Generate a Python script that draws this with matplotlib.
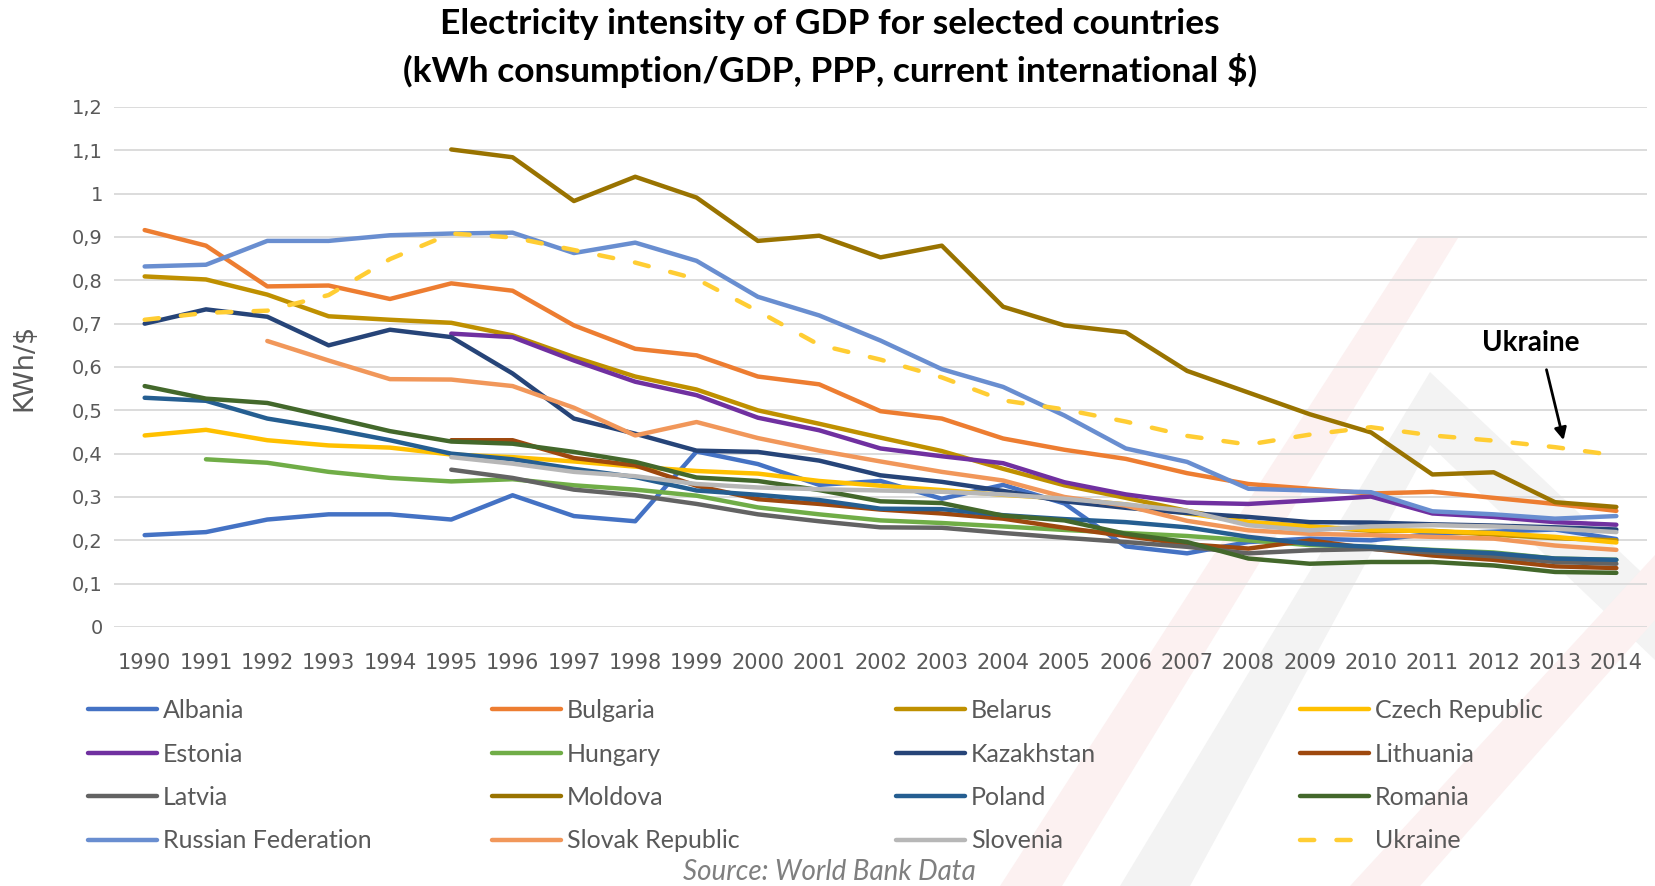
import numpy as np
import matplotlib
matplotlib.use("Agg")
import matplotlib.pyplot as plt
from matplotlib.patches import Polygon

nan = np.nan

years = list(range(1990, 2015))

albania = [0.212, 0.219, 0.248, 0.260, 0.260, 0.248, 0.304, 0.256, 0.244, 0.405, 0.376, 0.328, 0.337,
           0.296, 0.328, 0.285, 0.186, 0.170, 0.196, 0.204, 0.200, 0.215, 0.220, 0.225, 0.203]
bulgaria = [0.916, 0.880, 0.786, 0.788, 0.757, 0.793, 0.776, 0.696, 0.642, 0.627, 0.578, 0.560, 0.498,
            0.481, 0.435, 0.409, 0.388, 0.355, 0.330, 0.319, 0.308, 0.312, 0.298, 0.284, 0.268]
belarus = [0.809, 0.802, 0.767, 0.717, 0.709, 0.702, 0.673, 0.623, 0.578, 0.548, 0.500, 0.469, 0.437,
           0.406, 0.365, 0.327, 0.298, 0.268, 0.242, 0.232, 0.222, 0.222, 0.213, 0.205, 0.200]
czech = [0.442, 0.455, 0.431, 0.419, 0.414, 0.398, 0.392, 0.382, 0.370, 0.360, 0.354, 0.337, 0.326,
         0.316, 0.305, 0.296, 0.283, 0.262, 0.242, 0.232, 0.224, 0.221, 0.217, 0.208, 0.195]
estonia = [nan, nan, nan, nan, nan, 0.677, 0.669, 0.615, 0.566, 0.535, 0.483, 0.454, 0.412,
           0.394, 0.378, 0.334, 0.306, 0.287, 0.284, 0.292, 0.301, 0.262, 0.254, 0.242, 0.236]
hungary = [nan, 0.387, 0.379, 0.358, 0.344, 0.336, 0.341, 0.327, 0.317, 0.303, 0.276, 0.260, 0.246,
           0.240, 0.232, 0.224, 0.217, 0.210, 0.200, 0.189, 0.185, 0.178, 0.172, 0.158, 0.155]
kazakhstan = [0.700, 0.733, 0.716, 0.650, 0.686, 0.669, 0.585, 0.481, 0.446, 0.407, 0.404, 0.384, 0.350,
              0.335, 0.314, 0.290, 0.275, 0.263, 0.254, 0.242, 0.241, 0.237, 0.234, 0.230, 0.225]
lithuania = [nan, nan, nan, nan, nan, 0.431, 0.431, 0.390, 0.373, 0.326, 0.295, 0.284, 0.271,
             0.262, 0.250, 0.229, 0.210, 0.191, 0.181, 0.200, 0.181, 0.165, 0.155, 0.140, 0.136]
latvia = [nan, nan, nan, nan, nan, 0.363, 0.344, 0.317, 0.304, 0.284, 0.260, 0.244, 0.230,
          0.229, 0.217, 0.206, 0.196, 0.185, 0.170, 0.177, 0.180, 0.172, 0.163, 0.150, 0.146]
moldova = [nan, nan, nan, nan, nan, 1.102, 1.084, 0.983, 1.039, 0.991, 0.891, 0.903, 0.853,
           0.880, 0.739, 0.696, 0.680, 0.591, 0.541, 0.491, 0.449, 0.352, 0.357, 0.288, 0.277]
poland = [0.529, 0.522, 0.481, 0.458, 0.431, 0.400, 0.387, 0.365, 0.346, 0.315, 0.305, 0.293, 0.273,
          0.272, 0.258, 0.249, 0.242, 0.230, 0.208, 0.192, 0.185, 0.177, 0.170, 0.158, 0.155]
romania = [0.556, 0.527, 0.517, 0.485, 0.452, 0.428, 0.423, 0.404, 0.381, 0.345, 0.337, 0.316, 0.290,
           0.286, 0.257, 0.246, 0.215, 0.196, 0.158, 0.146, 0.150, 0.150, 0.142, 0.127, 0.125]
russia = [0.832, 0.836, 0.891, 0.891, 0.904, 0.908, 0.910, 0.863, 0.887, 0.845, 0.762, 0.719, 0.661,
          0.595, 0.554, 0.488, 0.412, 0.381, 0.319, 0.315, 0.311, 0.267, 0.260, 0.250, 0.256]
slovakia = [nan, nan, 0.660, 0.615, 0.572, 0.571, 0.556, 0.506, 0.442, 0.473, 0.436, 0.407, 0.382,
            0.358, 0.338, 0.300, 0.280, 0.245, 0.223, 0.215, 0.212, 0.208, 0.204, 0.188, 0.178]
slovenia = [nan, nan, nan, nan, nan, 0.392, 0.377, 0.358, 0.348, 0.330, 0.322, 0.318, 0.315,
            0.312, 0.306, 0.296, 0.283, 0.268, 0.235, 0.223, 0.232, 0.235, 0.232, 0.227, 0.219]
ukraine = [0.709, 0.725, 0.730, 0.766, 0.849, 0.908, 0.899, 0.870, 0.841, 0.803, 0.729, 0.651, 0.617,
           0.576, 0.523, 0.502, 0.474, 0.441, 0.421, 0.444, 0.461, 0.442, 0.430, 0.415, 0.396]

countries = ["Albania", "Bulgaria", "Belarus", "Czech Republic",
             "Estonia", "Hungary", "Kazakhstan", "Lithuania",
             "Latvia", "Moldova", "Poland", "Romania",
             "Russian Federation", "Slovak Republic", "Slovenia", "Ukraine"]
series = [albania, bulgaria, belarus, czech, estonia, hungary, kazakhstan, lithuania,
          latvia, moldova, poland, romania, russia, slovakia, slovenia, ukraine]
colors = ["#4472C4", "#ED7D31", "#BF9000", "#FFC000", "#7030A0", "#70AD47", "#264478", "#9E480E",
          "#636363", "#997300", "#255E91", "#43682B", "#698ED0", "#F1975A", "#B7B7B7", "#FFCD33"]

y_ticks = [0, 0.1, 0.2, 0.3, 0.4, 0.5, 0.6, 0.7, 0.8, 0.9, 1.0, 1.1, 1.2]
y_tick_labels = ["0", "0,1", "0,2", "0,3", "0,4", "0,5", "0,6", "0,7", "0,8", "0,9", "1", "1,1", "1,2"]

FONT = "Lato"
AXFONT = "DejaVu Sans"
GREY = "#595959"
W, H = 1655, 886

fig = plt.figure(figsize=(W / 100, H / 100), dpi=100)

# faint watermark in the lower right (pixel coords -> figure coords)
def px(points):
    return [(x / W, 1 - y / H) for x, y in points]

pink = "#FCF1F1"
gray = "#F3F3F3"
fig.patches.append(Polygon(px([(1418, 238), (1458, 238), (1062, 886), (1000, 886)]),
                           closed=True, fc=pink, ec="none", transform=fig.transFigure, zorder=-1))
fig.patches.append(Polygon(px([(1430, 372), (1655, 585), (1655, 660), (1430, 445), (1190, 886), (1120, 886)]),
                           closed=True, fc=gray, ec="none", transform=fig.transFigure, zorder=-1))
fig.patches.append(Polygon(px([(1655, 555), (1655, 620), (1420, 886), (1350, 886)]),
                           closed=True, fc=pink, ec="none", transform=fig.transFigure, zorder=-1))

ax = fig.add_axes([114 / W, 1 - 627 / H, (1647 - 114) / W, (627 - 107) / H])
ax.set_facecolor("none")

for name, vals, col in zip(countries, series, colors):
    if name == "Ukraine":
        ax.plot(years, vals, color=col, lw=3.2, label=name, dashes=(3.2, 5.0),
                dash_capstyle="round", solid_capstyle="round", zorder=3)
    else:
        ax.plot(years, vals, color=col, lw=3.2, label=name, solid_capstyle="round",
                solid_joinstyle="round", zorder=3)

ax.set_xlim(1989.5, 2014.5)
ax.set_ylim(0, 1.2)
ax.set_yticks(y_ticks)
ax.set_yticklabels(y_tick_labels, fontsize=14, color=GREY, family=AXFONT)
ax.set_xticks(years)
ax.set_xticklabels([str(y) for y in years], fontsize=15, color=GREY, family=AXFONT)
ax.tick_params(axis="both", length=0)
ax.tick_params(axis="y", pad=8)
ax.tick_params(axis="x", pad=19)
ax.grid(axis="y", color="#D9D9D9", lw=1.3, zorder=0)
for s in ax.spines.values():
    s.set_visible(False)

ax.set_ylabel("KWh/$", fontsize=19.5, color=GREY, family=AXFONT)
ax.yaxis.set_label_coords(-0.050, 0.5)

fig.text(0.5015, 1 - 24 / H, "Electricity intensity of GDP for selected countries",
         ha="center", va="center", fontsize=25.5, fontweight="bold", family=FONT)
fig.text(0.5015, 1 - 71 / H, "(kWh consumption/GDP, PPP, current international $)",
         ha="center", va="center", fontsize=25.5, fontweight="bold", family=FONT)

# Ukraine callout
ax.text(2012.6, 0.655, "Ukraine", ha="center", va="center", fontsize=20,
        fontweight="bold", family=FONT)
ax.annotate("", xy=(2013.15, 0.425), xytext=(2012.85, 0.60),
            arrowprops=dict(arrowstyle="-|>", lw=2, color="black", mutation_scale=18))

# legend: four columns laid out row-wise like the original
handles, labels = ax.get_legend_handles_labels()
col_x = [88, 492, 896, 1300]
for c in range(4):
    idx = [r * 4 + c for r in range(4)]
    leg = fig.legend([handles[i] for i in idx], [labels[i] for i in idx],
                     loc="upper left", bbox_to_anchor=(col_x[c] / W, 1 - 699 / H),
                     frameon=False, fontsize=18, handlelength=2.75, handletextpad=0.25,
                     labelspacing=0.82, borderaxespad=0, borderpad=0)
    for t in leg.get_texts():
        t.set_color(GREY)
        t.set_family(FONT)

fig.text(0.501, 1 - 872 / H, "Source: World Bank Data", ha="center", va="center",
         fontsize=20, style="italic", color="#7F7F7F", family=FONT)

fig.savefig("out.png", dpi=100)
